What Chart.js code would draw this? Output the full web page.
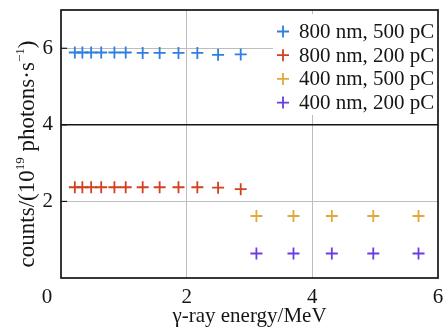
<!DOCTYPE html>
<html>
<head>
<meta charset="utf-8">
<script src="https://cdn.jsdelivr.net/npm/chart.js@4.4.0/dist/chart.umd.min.js"></script>
<style>
  html, body { margin: 0; padding: 0; background: #fff; }
</style>
</head>
<body>
<canvas id="gammaChart" width="446" height="330"></canvas>
<script>
// gamma-ray yield vs photon energy, per laser wavelength / bunch charge
const energy800 = [0.22, 0.34, 0.48, 0.64, 0.85, 1.03, 1.30, 1.57, 1.87, 2.17, 2.50, 2.86];
const counts800at500 = [5.89, 5.89, 5.89, 5.89, 5.89, 5.89, 5.88, 5.88, 5.88, 5.88, 5.83, 5.84];
const counts800at200 = [2.37, 2.37, 2.37, 2.37, 2.37, 2.37, 2.37, 2.37, 2.37, 2.37, 2.36, 2.32];
const energy400 = [3.11, 3.70, 4.31, 4.97, 5.69];
const counts400at500 = [1.62, 1.62, 1.62, 1.62, 1.62];
const counts400at200 = [0.64, 0.64, 0.64, 0.64, 0.64];

const seriesLabels = ["800 nm, 500 pC", "800 nm, 200 pC", "400 nm, 500 pC", "400 nm, 200 pC"];
const seriesColors = ["#2f7fe0", "#d2401f", "#e3a83c", "#6a3ce4"];
const xTicks = [0, 2, 4, 6];
const yTicks = [0, 2, 4, 6];

const SERIF = "'Liberation Serif', 'Times New Roman', serif";
const INK = "#151515";
const GRID = "#bdbdbd";

const pts = (xs, ys) => xs.map((x, i) => ({ x, y: ys[i] }));

const seriesData = [
  pts(energy800, counts800at500),
  pts(energy800, counts800at200),
  pts(energy400, counts400at500),
  pts(energy400, counts400at200),
];

const datasets = seriesData.map((data, i) => ({
  label: seriesLabels[i],
  data,
  borderColor: seriesColors[i],
  backgroundColor: seriesColors[i],
  pointStyle: "cross",
  pointRadius: 6,
  pointHoverRadius: 6,
  borderWidth: 1.8,
  showLine: false,
}));

// frame, inward ticks, corner "0", legend box and the y title with superscripts
const decor = {
  id: "decor",
  afterDatasetsDraw(chart) {
    const ctx = chart.ctx;
    const a = chart.chartArea;
    ctx.save();
    const boxL = 273, boxT = 14;
    ctx.fillStyle = "#fff";
    ctx.fillRect(boxL, boxT, a.right - boxL, 101);
    ctx.font = "21px " + SERIF;
    ctx.textBaseline = "middle";
    ctx.textAlign = "left";
    seriesLabels.forEach((label, i) => {
      const y = 31.5 + i * 23.7;
      ctx.strokeStyle = seriesColors[i];
      ctx.lineWidth = 1.8;
      ctx.beginPath();
      ctx.moveTo(277, y); ctx.lineTo(289, y);
      ctx.moveTo(283, y - 6); ctx.lineTo(283, y + 6);
      ctx.stroke();
      ctx.fillStyle = INK;
      ctx.fillText(label, 299, y + 1);
    });
    ctx.restore();
  },
  afterDraw(chart) {
    const ctx = chart.ctx;
    const a = chart.chartArea;
    const ys = chart.scales.y;
    ctx.save();
    ctx.strokeStyle = INK;
    ctx.lineWidth = 1.7;
    ctx.strokeRect(a.left, a.top, a.right - a.left, a.bottom - a.top);

    ctx.lineWidth = 1.2;
    yTicks.filter((v) => v > 0).forEach((v) => {
      const py = ys.getPixelForValue(v);
      ctx.beginPath();
      ctx.moveTo(a.left, py);
      ctx.lineTo(a.left + 6, py);
      ctx.stroke();
    });

    ctx.fillStyle = INK;
    ctx.font = "21px " + SERIF;
    ctx.textAlign = "center";
    ctx.textBaseline = "middle";
    ctx.fillText("0", a.left - 14, a.bottom + 19);

    // rotated y title, built from pieces so the exponents can be smaller
    const parts = [
      ["counts/(10", 23, 0],
      ["19", 13, -10],
      [" photons\u00b7s", 23, 0],
      ["\u22121", 13, -10],
      [")", 23, 0],
    ];
    let total = 0;
    parts.forEach(([t, size]) => {
      ctx.font = size + "px " + SERIF;
      total += ctx.measureText(t).width;
    });
    ctx.translate(34, 154);
    ctx.rotate(-Math.PI / 2);
    ctx.textAlign = "left";
    ctx.textBaseline = "alphabetic";
    let x = -total / 2;
    parts.forEach(([t, size, dy]) => {
      ctx.font = size + "px " + SERIF;
      ctx.fillText(t, x, dy);
      x += ctx.measureText(t).width;
    });
    ctx.restore();
  },
};

new Chart(document.getElementById("gammaChart"), {
  type: "scatter",
  data: { datasets },
  options: {
    responsive: false,
    animation: false,
    layout: { padding: { top: 10, right: 8, left: 0, bottom: 0 } },
    plugins: {
      legend: { display: false },
      tooltip: { enabled: false },
    },
    scales: {
      x: {
        type: "linear",
        min: 0,
        max: 6,
        afterBuildTicks: (s) => { s.ticks = xTicks.map((value) => ({ value })); },
        afterFit: (s) => {
          s.height = 52;
          s.paddingLeft = 0;
          s.paddingRight = 0;
        },
        border: { display: false },
        grid: {
          drawTicks: false,
          color: (c) => (c.tick && (c.tick.value === 2 || c.tick.value === 4) ? GRID : "rgba(0,0,0,0)"),
          lineWidth: 1,
        },
        ticks: {
          padding: 7,
          color: INK,
          font: { family: SERIF, size: 21 },
          callback: (v) => (v === 0 ? "" : String(v)),
        },
        title: {
          display: true,
          text: "\u03b3-ray energy/MeV",
          color: INK,
          font: { family: SERIF, size: 21 },
          padding: { top: 0, bottom: 1 },
        },
      },
      y: {
        type: "linear",
        min: 0,
        max: 7,
        afterBuildTicks: (s) => { s.ticks = yTicks.map((value) => ({ value })); },
        afterFit: (s) => {
          s.width = 61;
          s.paddingTop = 0;
          s.paddingBottom = 0;
        },
        border: { display: false },
        grid: {
          drawTicks: false,
          color: (c) => {
            const v = c.tick && c.tick.value;
            if (v === 4) return INK;
            if (v === 2 || v === 6) return GRID;
            return "rgba(0,0,0,0)";
          },
          lineWidth: (c) => (c.tick && c.tick.value === 4 ? 1.5 : 1),
        },
        ticks: {
          padding: 8,
          color: INK,
          font: { family: SERIF, size: 21 },
          callback: (v) => (v === 0 ? "" : String(v)),
        },
      },
    },
  },
  plugins: [decor],
});
</script>
</body>
</html>
